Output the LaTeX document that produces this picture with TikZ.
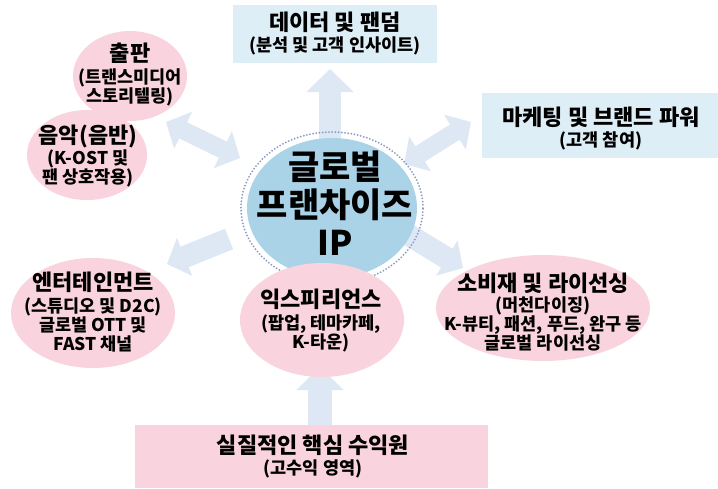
\documentclass[tikz,border=0pt]{standalone}
\usepackage{fontspec}
\setmainfont{Noto Sans CJK KR}
\usetikzlibrary{shapes.geometric,arrows.meta}
\definecolor{pinkfill}{HTML}{F9D4DE}
\definecolor{boxfill}{HTML}{DDEEF6}
\definecolor{corefill}{HTML}{AAD3E8}
\definecolor{dotcol}{HTML}{8A98C8}
\definecolor{arrowfill}{HTML}{DDE8F4}
\newcommand\ttlfont{\fontsize{22}{25}\selectfont}
\newcommand\subfont{\fontsize{17.5}{19}\selectfont}
\tikzset{
  pinkell/.style={ellipse, fill=pinkfill, draw=none, inner sep=0pt},
  bluebox/.style={rectangle, fill=boxfill, draw=none, inner sep=0pt},
  pinkbox/.style={rectangle, fill=pinkfill, draw=none, inner sep=0pt},
  txt/.style={align=center, font=\bfseries\subfont, inner sep=0pt, text=black},
  bigarrow/.style={draw=arrowfill, line width=#1, line cap=butt},
  tipA/.tip={Triangle[width=46pt,length=23pt]},
  tipB/.tip={Triangle[width=40pt,length=19pt]},
}
\begin{document}
\begin{tikzpicture}[x=1pt,y=-1pt]
\fill[white] (0,0) rectangle (718,488);
\useasboundingbox (0,0) rectangle (718,488);

% arrow end points
\coordinate (upS) at (330,150);
\coordinate (upE) at (330,69);
\coordinate (bS) at (320,426);
\coordinate (bE) at (320,367);
\coordinate (ulA) at (166,122);
\coordinate (ulB) at (240,158);
\coordinate (urA) at (404,164);
\coordinate (urB) at (471,122);
\coordinate (llS) at (229,239);
\coordinate (llE) at (167,264);
\coordinate (lrS) at (404,232);
\coordinate (lrE) at (463,268);

% block arrows
\draw[bigarrow=22pt, -{tipA}] (upS) -- (upE);
\draw[bigarrow=24pt, -{tipA}] (bS) -- (bE);
\draw[bigarrow=18pt, {tipB}-{tipB}] (ulA) -- (ulB);
\draw[bigarrow=18pt, {tipB}-{tipB}] (urA) -- (urB);
\draw[bigarrow=22pt, -{tipB}] (llS) -- (llE);
\draw[bigarrow=22pt, -{tipB}] (lrS) -- (lrE);

% top and right boxes
\node[bluebox, minimum width=204pt, minimum height=58pt] (data) at (335,34) {};
\node[txt] (datat) at (335,33.5) {{\ttlfont 데이터 및 팬덤}\\[2pt](분석 및 고객 인사이트)};
\node[bluebox, minimum width=236pt, minimum height=65pt] (mkt) at (600,125.5) {};
\node[txt] (mktt) at (601,128.5) {{\ttlfont 마케팅 및 브랜드 파워}\\[2pt](고객 참여)};

% core
\node[ellipse, draw=dotcol, line width=2pt, dash pattern=on 0pt off 3.2pt, line cap=round, minimum width=182pt, minimum height=152pt, inner sep=0pt] (ring) at (332,208) {};
\node[ellipse, fill=corefill, minimum width=170pt, minimum height=140pt, inner sep=0pt] (core) at (332,208) {};
\node[txt, font=\bfseries\fontsize{34}{38}\selectfont] (coret) at (335,203) {글로벌\\프랜차이즈\\IP};

% pink ellipses
\node[pinkell, minimum width=114pt, minimum height=90pt] (pub) at (130,76) {};
\node[pinkell, minimum width=120pt, minimum height=90pt] (mus) at (87,155) {};
\node[txt] (pubt) at (130,75) {{\ttlfont 출판}\\[3pt](트랜스미디어\\스토리텔링)};
\node[txt] (must) at (88,156) {{\ttlfont 음악(음반)}\\[0pt](K-OST 및\\팬 상호작용)};
\node[pinkell, minimum width=164pt, minimum height=110pt] (ent) at (93,313) {};
\node[txt] (entt) at (93,312) {{\ttlfont 엔터테인먼트}\\[3pt](스튜디오 및 D2C)\\글로벌 OTT 및\\FAST 채널};
\node[pinkell, minimum width=164pt, minimum height=114pt] (exp) at (322,320) {};
\node[txt] (expt) at (321,320) {{\ttlfont 익스피리언스}\\[3pt](팝업, 테마카페,\\K-타운)};
\node[pinkell, minimum width=214pt, minimum height=106pt] (cons) at (543,308) {};
\node[txt] (const) at (543,312) {{\ttlfont 소비재 및 라이선싱}\\[1pt](머천다이징)\\K-뷰티, 패션, 푸드, 완구 등\\글로벌 라이선싱};

% bottom box
\node[pinkbox, minimum width=353pt, minimum height=63pt] (rev) at (311.5,456.5) {};
\node[txt] (revt) at (313,457) {{\ttlfont 실질적인 핵심 수익원}\\[2pt](고수익 영역)};
\end{tikzpicture}
\end{document}
